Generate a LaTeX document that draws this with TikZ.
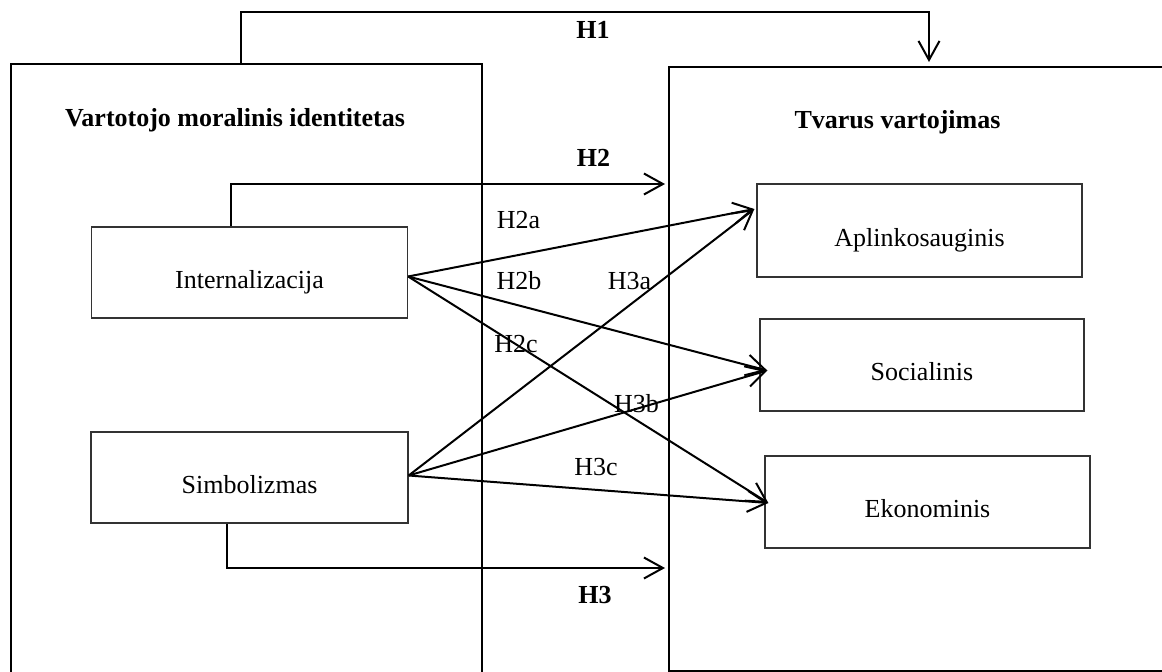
\documentclass[tikz,border=0pt]{standalone}
\usepackage{fontspec}
\setmainfont{Liberation Serif}
\usetikzlibrary{arrows.meta}
\begin{document}
\begin{tikzpicture}[x=1pt,y=-1pt,
  txt/.style={font=\fontsize{26}{31}\selectfont, inner sep=0pt},
  heading/.style={font=\fontsize{26}{31}\selectfont\bfseries, inner sep=0pt},
  bigbox/.style={draw, line width=1.8pt, inner sep=0pt, anchor=north west},
  subbox/.style={draw=black!80, line width=1.3pt, inner sep=0pt,
    font=\fontsize{26}{31}\selectfont, text height=31pt, text depth=0pt},
  arr/.style={line width=2pt, -{Straight Barb[length=19pt,width=21pt]}},
]
\path[use as bounding box] (0,0) rectangle (1162,672);
\clip (0,0) rectangle (1162,672);

% outer frames
\node[bigbox, minimum width=471pt, minimum height=620pt] (lbox) at (10,63) {};
\node[bigbox, minimum width=510pt, minimum height=604pt] (rbox) at (668,66) {};
\node[heading, anchor=base] (ltitle) at (235,126) {Vartotojo moralinis identitetas};
\node[heading, anchor=base] (rtitle) at (897.5,128) {Tvarus vartojimas};

% dimensions
\node[subbox, minimum width=316pt, minimum height=91pt] (int) at (249.5,272.5) {Internalizacija};
\node[subbox, minimum width=317pt, minimum height=91pt] (simb) at (249.5,477.5) {Simbolizmas};
\node[subbox, minimum width=325pt, minimum height=93pt] (apl) at (919.5,230.5) {Aplinkosauginis};
\node[subbox, minimum width=324pt, minimum height=92pt] (soc) at (922,365) {Socialinis};
\node[subbox, minimum width=325pt, minimum height=92pt] (eko) at (927.5,502) {Ekonominis};

% connector end points
\coordinate (h1top) at (241,12);
\coordinate (h1end) at (929,62);
\coordinate (h2end) at (665,184);
\coordinate (h3end) at (665,568);
\coordinate (intout) at ([yshift=-4pt]int.east);
\coordinate (simbout) at ([yshift=2pt]simb.east);
\coordinate (aplin) at ([xshift=-2pt,yshift=21.5pt]apl.west);
\coordinate (socin) at ([xshift=8pt,yshift=-5.5pt]soc.west);
\coordinate (ekoin) at ([xshift=4pt,yshift=-1pt]eko.west);

% hypotheses
\draw[arr] (lbox.north -| h1top) -- (h1top) -| (h1end);
\draw[arr] ([xshift=-18.5pt]int.north) |- (h2end);
\draw[arr] ([xshift=-22.5pt]simb.south) |- (h3end);
\draw[arr] (intout) -- (aplin);
\draw[arr] (intout) -- (socin);
\draw[arr] (intout) -- (ekoin);
\draw[arr] (simbout) -- (aplin);
\draw[arr] (simbout) -- (socin);
\draw[arr] (simbout) -- (ekoin);

% labels
\node[heading, anchor=base] (lh1) at (593,38.6) {H1};
\node[heading, anchor=base] (lh2) at (593.5,166.6) {H2};
\node[heading, anchor=base] (lh3) at (595,603.6) {H3};
\node[txt, anchor=base] (lh2a) at (518.5,228) {H2a};
\node[txt, anchor=base] (lh2b) at (519,289.6) {H2b};
\node[txt, anchor=base] (lh3a) at (629.5,289.6) {H3a};
\node[txt, anchor=base] (lh2c) at (516,352) {H2c};
\node[txt, anchor=base] (lh3b) at (636.5,412.6) {H3b};
\node[txt, anchor=base] (lh3c) at (596,475.6) {H3c};
\end{tikzpicture}
\end{document}
